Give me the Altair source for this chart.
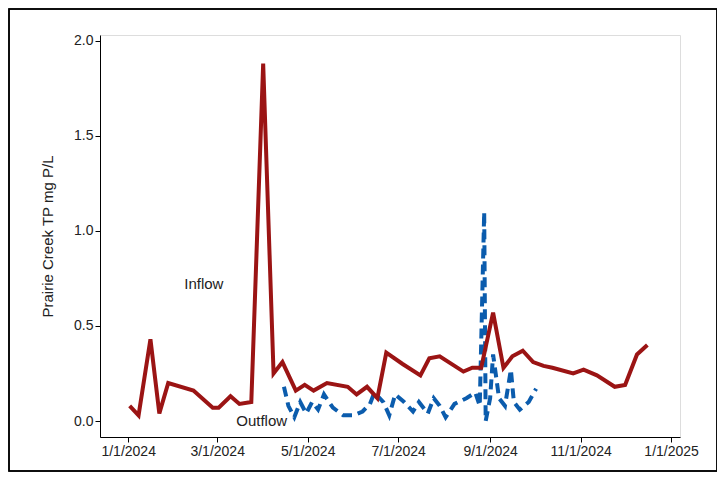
import altair as alt
import pandas as pd

in_days = [1,7,15,21,27,44,57,61,69,75,83,91,98,104,113,119,125,134,148,154,161,168,174,185,197,203,210,226,232,238,246,253,259,266,273,280,286,300,307,316,328,335,343,350]
in_vals = [0.08,0.03,0.43,0.04,0.2,0.16,0.07,0.07,0.13,0.09,0.1,1.88,0.25,0.31,0.16,0.19,0.16,0.2,0.18,0.14,0.18,0.12,0.36,0.3,0.24,0.33,0.34,0.26,0.28,0.28,0.57,0.28,0.34,0.37,0.31,0.29,0.28,0.25,0.27,0.24,0.18,0.19,0.35,0.40]
out_days = [105,108,112,116,120,124,128,132,138,145,152,158,163,166,172,176,180,186,192,196,202,206,210,214,220,228,234,237,240,241,244,246,250,254,258,260,264,270,275]
out_vals = [0.18,0.08,0.02,0.10,0.04,0.10,0.06,0.14,0.07,0.03,0.03,0.05,0.09,0.15,0.10,0.03,0.14,0.10,0.05,0.10,0.04,0.12,0.08,0.02,0.09,0.12,0.15,0.08,1.10,0.0,0.12,0.35,0.12,0.08,0.27,0.10,0.06,0.10,0.17]

base = pd.Timestamp("2024-01-01")
dfi = pd.DataFrame({"date": [base + pd.Timedelta(days=d) for d in in_days], "tp": in_vals})
dfo = pd.DataFrame({"date": [base + pd.Timedelta(days=d) for d in out_days], "tp": out_vals})
labels = pd.DataFrame({"date": [base + pd.Timedelta(days=51), base + pd.Timedelta(days=90)],
                       "tp": [0.72, 0.0], "text": ["Inflow", "Outflow"]})

tick_vals = [alt.DateTime(year=2024, month=m, date=1) for m in [1,3,5,7,9,11]] + [alt.DateTime(year=2025, month=1, date=1)]
xs = alt.Scale(domain=[alt.DateTime(year=2023, month=12, date=13), alt.DateTime(year=2025, month=1, date=7)])
ys = alt.Scale(domain=[-0.084, 2.03], nice=False, zero=False)
X = alt.X("date:T", scale=xs, title=None,
          axis=alt.Axis(values=tick_vals, format="%-m/%-d/%Y", grid=False, labelFontSize=14,
                        labelColor="#222", domainColor="#000", tickColor="#000", labelFont="Liberation Sans"))
Y = alt.Y("tp:Q", scale=ys, title="Prairie Creek TP mg P/L",
          axis=alt.Axis(values=[0, 0.5, 1.0, 1.5, 2.0], format=".1f", grid=False, labelFontSize=14,
                        titleFontSize=15, titleFontWeight="normal", labelColor="#222", titleColor="#222",
                        titlePadding=18,
                        domainColor="#000", tickColor="#000", labelFont="Liberation Sans", titleFont="Liberation Sans"))

inflow = alt.Chart(dfi).mark_line(color="#9b1414", strokeWidth=4).encode(x=X, y=Y)
outflow = alt.Chart(dfo).mark_line(color="#0b5cad", strokeWidth=4, strokeDash=[10, 6]).encode(x=X, y=Y)
txt = alt.Chart(labels).mark_text(fontSize=15, color="#222", font="Liberation Sans").encode(x=X, y=Y, text="text:N")
border = alt.Chart(labels).mark_rect(fill=None, stroke="black", strokeWidth=1.5, clip=False).encode(
    x=alt.value(-91), x2=alt.value(617), y=alt.value(-26), y2=alt.value(436))

chart = alt.layer(border, outflow, inflow, txt).properties(
    width=580, height=402, padding={"left": 92, "top": 27, "right": 37, "bottom": 35},
    autosize=alt.AutoSizeParams(type="none")
).configure_view(stroke=None).configure(background="white")

chart.save("out.html", embed_options={"renderer": "svg", "actions": False})
